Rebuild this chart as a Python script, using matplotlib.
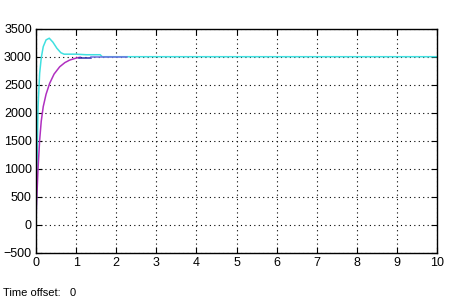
import numpy as np
import matplotlib
matplotlib.use("Agg")
import matplotlib.pyplot as plt

plt.rcParams['font.family'] = ['Liberation Sans', 'DejaVu Sans']

# scope traces (time in s, value)
t_cyan = [0, 0.02, 0.035, 0.05, 0.09, 0.13, 0.18, 0.25, 0.33, 0.42, 0.52, 0.62, 0.7, 1.0, 1.25, 1.6, 1.65, 10]
v_cyan = [0, 900, 1510, 2100, 2700, 2980, 3180, 3300, 3330, 3260, 3150, 3070, 3045, 3045, 3035, 3035, 3000, 3000]

t_mag = [0, 0.01, 0.05, 0.09, 0.13, 0.18, 0.25, 0.34, 0.45, 0.59, 0.72, 0.84, 1.0, 1.1]
v_mag = [0, 320, 1000, 1510, 1850, 2110, 2330, 2525, 2690, 2820, 2895, 2940, 2975, 2990]

t_blue = [1.08, 1.37]
v_blue = [2970, 2970]

t_lav = [1.37, 2.28]
v_lav = [3000, 3000]

fig = plt.figure(figsize=(4.62, 3.02), dpi=100)
ax = fig.add_axes([0.078, 0.163, 0.868, 0.742])

ax.plot(t_cyan, v_cyan, color='#40e0e0', lw=1.1)
ax.plot(t_mag, v_mag, color='#b030c0', lw=1.1)
ax.plot([0, 0], [150, 650], color='#4040c8', lw=1.1)
ax.plot(t_blue, v_blue, color='#3030b0', lw=1.1)
ax.plot(t_lav, v_lav, color='#7070e0', lw=1.1)

ax.set_xlim(0, 10)
ax.set_ylim(-500, 3500)
ax.set_xticks(np.arange(0, 11, 1))
ax.set_yticks(np.arange(-500, 3501, 500))
ax.grid(True, color='black', linestyle=(0, (1, 3)), lw=0.8)
ax.tick_params(direction='in', top=True, right=True, labelsize=9, length=4, pad=3)
for s in ax.spines.values():
    s.set_linewidth(1)

fig.text(0.006, 0.02, "Time offset:   0", fontsize=8)

fig.savefig("out.png", dpi=100)
